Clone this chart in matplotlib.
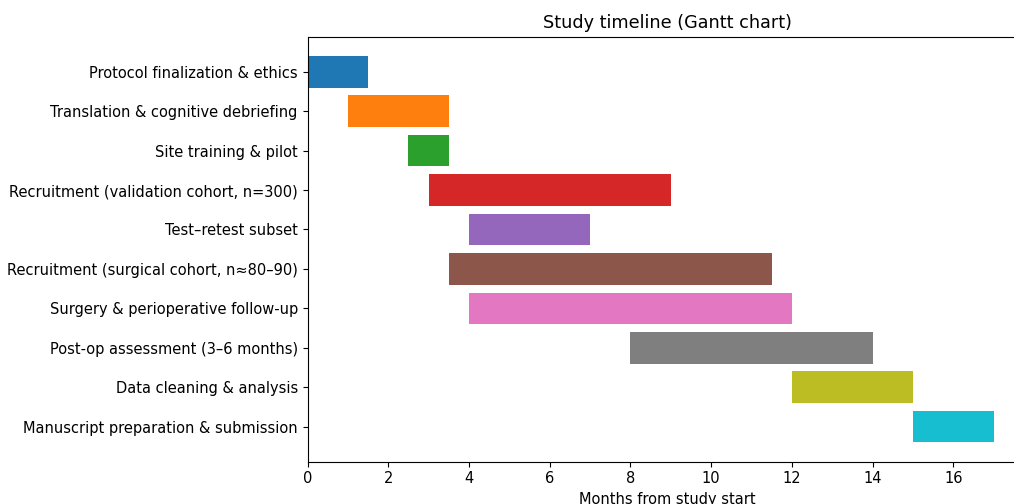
import matplotlib
matplotlib.use("Agg")
import matplotlib.pyplot as plt

tasks = [
    "Protocol finalization & ethics",
    "Translation & cognitive debriefing",
    "Site training & pilot",
    "Recruitment (validation cohort, n=300)",
    "Test–retest subset",
    "Recruitment (surgical cohort, n≈80–90)",
    "Surgery & perioperative follow-up",
    "Post-op assessment (3–6 months)",
    "Data cleaning & analysis",
    "Manuscript preparation & submission",
]
starts = [0, 1, 2.5, 3, 4, 3.5, 4, 8, 12, 15]
ends = [1.5, 3.5, 3.5, 9, 7, 11.5, 12, 14, 15, 17]
durations = [e - s for s, e in zip(starts, ends)]
xticks = [0, 2, 4, 6, 8, 10, 12, 14, 16]

colors = plt.rcParams['axes.prop_cycle'].by_key()['color']

fig = plt.figure(figsize=(10.14, 5.04), dpi=100)
ax = fig.add_axes([0.3033, 0.0839, 0.7105, 0.8433])
for i, (t, s, d) in enumerate(zip(tasks, starts, durations)):
    ax.barh(i, d, left=s, color=colors[i % len(colors)])
ax.set_yticks(range(len(tasks)))
ax.set_yticklabels(tasks, fontsize=10.5)
ax.invert_yaxis()
ax.set_xticks(xticks)
ax.tick_params(axis='x', labelsize=10.5)
ax.set_xlim(0, 17.85)
ax.set_xlabel("Months from study start", fontsize=10.5)
ax.set_title("Study timeline (Gantt chart)", fontsize=12.7)
fig.savefig("out.png", dpi=100)
